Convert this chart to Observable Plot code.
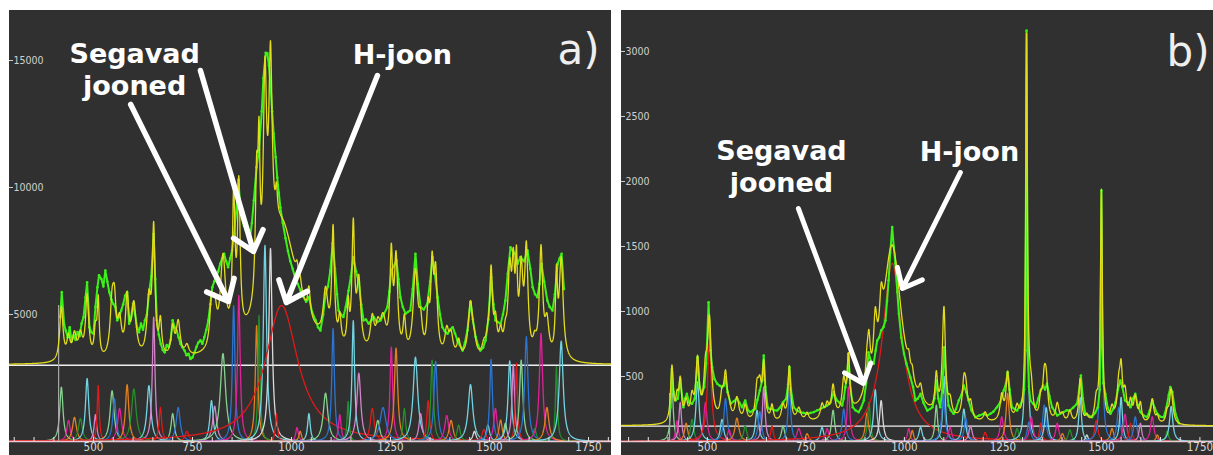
<!DOCTYPE html>
<html>
<head>
<meta charset="utf-8">
<script src="https://cdn.jsdelivr.net/npm/d3@7"></script>
<script src="https://cdn.jsdelivr.net/npm/@observablehq/plot@0.6"></script>
<style>
  html, body { margin: 0; padding: 0; background: #ffffff; }
  #wrap { position: relative; width: 1213px; height: 455px; overflow: hidden; }
  #pa { position: absolute; left: 9px; top: 10px; }
  #pb { position: absolute; left: 621px; top: 10px; }
  svg { display: block; }
</style>
</head>
<body>
<div id="wrap"><div id="pa"></div><div id="pb"></div></div>
<script>
// ---- Panel a) : fitted Raman bands [centre cm-1, height, half width, series] ----
const bandsA = [
  [419, 2140, 5, "LG"], [437, 830, 5, "MG"], [452, 950, 6, "OR"], [467, 900, 6, "DG"],
  [484, 2480, 5, "CY"], [505, 1060, 4, "PK"], [512, 2200, 3, "RD"], [547, 2000, 6, "LG"],
  [553, 1690, 5, "BL"], [566, 1300, 6, "MG"], [585, 2240, 5, "OR"], [602, 2070, 7, "DG"],
  [640, 2200, 6, "CY"], [652, 4900, 4, "PK"], [669, 1340, 4, "RD"], [700, 1100, 5, "LG"],
  [714, 1340, 6, "BL"], [736, 400, 6, "RD"], [798, 1610, 5, "CY"], [806, 1390, 6, "PK"],
  [827, 3460, 8, "LG"], [854, 5350, 4, "BL"], [867, 5750, 4, "MG"], [912, 4560, 4, "OR"],
  [918, 4960, 3, "DG"], [933, 7720, 5, "CY"], [947, 7600, 5, "WH"], [975, 5350, 50, "RD"],
  [962, 1100, 3, "RD"], [1014, 550, 4, "MG"], [1022, 400, 4, "OR"], [1044, 1100, 4, "CY"],
  [1086, 1900, 7, "LG"], [1105, 4450, 4, "BL"], [1122, 1060, 4, "MG"], [1143, 1580, 3, "DG"],
  [1156, 4760, 4, "CY"], [1170, 2690, 6, "PK"], [1204, 1300, 6, "RD"], [1218, 830, 6, "LG"],
  [1231, 1340, 9, "BL"], [1252, 3710, 4, "MG"], [1264, 3680, 5, "OR"], [1285, 1300, 4, "DG"],
  [1313, 3320, 7, "CY"], [1326, 1100, 5, "PK"], [1345, 1610, 4, "RD"], [1355, 3200, 4, "DG"],
  [1364, 3150, 5, "BL"], [1392, 1020, 6, "MG"], [1403, 830, 6, "OR"], [1422, 650, 5, "DG"],
  [1452, 2240, 7, "CY"], [1462, 400, 5, "WH"], [1486, 470, 6, "RD"], [1496, 650, 5, "CY"],
  [1504, 3230, 4, "BL"], [1515, 1300, 5, "MG"], [1528, 850, 5, "OR"], [1540, 720, 5, "LG"],
  [1551, 3170, 5, "CY"], [1560, 3020, 4, "PK"], [1568, 3070, 3, "RD"], [1580, 3200, 5, "LG"],
  [1593, 4130, 5, "BL"], [1614, 500, 5, "DG"], [1630, 4260, 5, "MG"], [1645, 1340, 6, "OR"],
  [1669, 2950, 3, "DG"], [1681, 3950, 6, "CY"]
];
const offsetA = 3000;
// measured spectrum, panel a) [cm-1, counts]
const observedA = [
  [416, 4900], [420, 5880], [426, 4600], [430, 4370], [435, 4100], [440, 4500], [445, 3950],
  [450, 4180], [455, 4000], [460, 4310], [465, 4150], [470, 4640], [475, 4900], [480, 5680],
  [484, 6270], [490, 4500], [495, 4300], [500, 4240], [505, 5300], [510, 6070], [514, 6540],
  [520, 6400], [525, 6100], [530, 6730], [535, 6300], [540, 5880], [545, 5600], [550, 5420],
  [555, 5300], [560, 4770], [565, 4900], [570, 5160], [575, 5400], [580, 5750], [585, 5880],
  [590, 4640], [595, 4900], [600, 5420], [605, 5000], [610, 4500], [615, 4300], [620, 4640],
  [625, 4400], [630, 4770], [635, 5000], [640, 5800], [646, 6500], [652, 8170], [656, 6400],
  [660, 4770], [665, 4200], [670, 3840], [675, 3600], [680, 3510], [685, 3800], [690, 3720],
  [695, 4000], [700, 4770], [705, 4500], [710, 4370], [715, 4100], [720, 3840], [725, 3700],
  [730, 3580], [735, 3400], [740, 3450], [745, 3250], [750, 3310], [755, 3500], [760, 3720],
  [765, 3900], [770, 3980], [775, 3850], [780, 4110], [785, 4400], [790, 4770], [795, 5400],
  [800, 6070], [805, 6300], [810, 6470], [815, 6700], [820, 7000], [825, 7200], [830, 7390],
  [835, 7100], [840, 6860], [845, 7200], [850, 7520], [855, 8200], [860, 9000], [866, 10300],
  [870, 9400], [875, 8800], [880, 8500], [885, 8300], [890, 8100], [895, 8000], [900, 8600],
  [905, 9500], [912, 10800], [918, 11500], [925, 13000], [929, 14300], [935, 15300],
  [939, 15280], [943, 14800], [947, 14090], [951, 13000], [955, 12120], [960, 11200],
  [964, 10390], [968, 9800], [972, 9210], [978, 8600], [985, 8000], [991, 7500], [997, 7100],
  [1003, 6800], [1010, 6400], [1016, 6200], [1023, 5940], [1030, 5700], [1037, 5500],
  [1044, 5680], [1052, 5100], [1061, 4770], [1067, 4500], [1073, 4370], [1080, 5000],
  [1086, 5810], [1092, 6100], [1098, 6730], [1104, 7800], [1110, 6800], [1115, 5800],
  [1119, 5160], [1125, 5000], [1131, 4900], [1137, 5300], [1144, 5940], [1150, 6500],
  [1156, 7260], [1163, 6700], [1170, 6270], [1176, 5400], [1182, 4770], [1188, 4800],
  [1195, 4640], [1201, 4750], [1208, 4900], [1216, 4700], [1225, 4770], [1233, 5000],
  [1242, 5290], [1247, 5900], [1252, 6730], [1258, 6900], [1265, 7130], [1270, 6400],
  [1275, 5680], [1281, 5300], [1288, 5030], [1294, 5100], [1300, 5160], [1306, 6000],
  [1313, 7390], [1319, 6200], [1326, 5290], [1334, 5200], [1343, 5420], [1350, 6300],
  [1356, 7260], [1362, 6600], [1369, 5680], [1375, 5000], [1381, 4500], [1387, 4350],
  [1394, 4240], [1400, 4400], [1407, 4500], [1413, 4250], [1419, 3980], [1425, 3800],
  [1432, 3580], [1438, 3900], [1444, 4370], [1452, 5490], [1458, 4800], [1465, 4110],
  [1471, 3800], [1477, 3580], [1484, 3700], [1490, 3980], [1497, 4800], [1504, 6470],
  [1510, 5400], [1515, 4770], [1521, 4700], [1528, 4640], [1534, 5000], [1540, 5550],
  [1546, 6600], [1553, 7650], [1559, 7500], [1565, 7390], [1571, 7000], [1578, 7260],
  [1587, 7100], [1596, 7520], [1603, 6800], [1609, 6070], [1615, 5800], [1621, 5680],
  [1626, 6200], [1631, 7000], [1638, 6300], [1646, 5550], [1652, 5300], [1659, 5160],
  [1665, 5800], [1672, 7000], [1677, 7200], [1682, 7390], [1688, 6000]
];
const startA = [{x: 412, top: 5350}];
const notesA = [
  {text: "Segavad\njooned", x: 604, y: 14685},
  {text: "H-joon", x: 1280, y: 15260}
];
const tagA = [{text: "a)", x: 1725, y: 15400}];
const arrowsA = [
  {x1: 594, y1: 13268, x2: 841, y2: 5512},
  {x1: 770, y1: 14606, x2: 904, y2: 7480},
  {x1: 1217, y1: 14409, x2: 987, y2: 5472}
];
const yTicksA = [5000, 10000, 15000];

// ---- Panel b) ----
const bandsB = [
  [410, 430, 4, "LG"], [423, 160, 4, "MG"], [431, 300, 4, "PK"], [446, 140, 5, "OR"],
  [461, 170, 5, "DG"], [475, 460, 5, "CY"], [495, 300, 5, "MG"], [505, 760, 6, "RD"],
  [537, 170, 5, "CY"], [546, 330, 5, "BL"], [555, 90, 5, "MG"], [575, 180, 6, "OR"],
  [596, 120, 5, "DG"], [626, 240, 5, "CY"], [633, 230, 5, "BL"], [643, 420, 4, "PK"],
  [664, 120, 4, "RD"], [692, 120, 5, "LG"], [708, 420, 4, "BL"], [732, 100, 6, "MG"],
  [753, 60, 5, "OR"], [791, 110, 5, "CY"], [804, 100, 5, "MG"], [819, 240, 5, "LG"],
  [846, 250, 5, "BL"], [858, 420, 4, "MG"], [905, 220, 5, "OR"], [910, 300, 4, "DG"],
  [926, 400, 5, "CY"], [941, 315, 5, "WH"], [969, 1370, 30, "RD"], [1011, 100, 4, "MG"],
  [1020, 85, 4, "OR"], [1041, 110, 5, "CY"], [1081, 280, 4, "LG"], [1101, 500, 4, "CY"],
  [1099, 360, 5, "BL"], [1116, 110, 5, "MG"], [1151, 250, 5, "CY"], [1156, 180, 5, "BL"],
  [1168, 120, 5, "PK"], [1205, 70, 5, "RD"], [1247, 190, 5, "MG"], [1262, 370, 5, "OR"],
  [1286, 100, 5, "DG"], [1310, 2900, 2.5, "CY"], [1316, 150, 5, "BL"], [1322, 190, 5, "MG"],
  [1346, 140, 4, "RD"], [1355, 280, 5, "BL"], [1360, 260, 5, "CY"], [1388, 140, 5, "MG"],
  [1401, 60, 5, "OR"], [1420, 90, 5, "DG"], [1446, 340, 4, "CY"], [1463, 50, 4, "WH"],
  [1487, 160, 5, "RD"], [1500, 1780, 3, "BL"], [1527, 100, 5, "OR"], [1544, 260, 5, "BL"],
  [1550, 340, 4, "CY"], [1560, 210, 5, "MG"], [1574, 140, 4, "RD"], [1586, 190, 5, "BL"],
  [1599, 140, 4, "PK"], [1629, 190, 5, "MG"], [1642, 50, 4, "OR"], [1667, 80, 4, "DG"],
  [1677, 270, 5, "CY"]
];
const offsetB = 118;
// measured spectrum, panel b) [cm-1, counts]
const observedB = [
  [406, 260], [410, 560], [414, 380], [419, 315], [425, 330], [431, 480], [439, 264],
  [443, 330], [448, 366], [454, 300], [461, 290], [468, 330], [475, 648], [480, 420],
  [486, 366], [492, 420], [497, 600], [503, 1070], [508, 700], [512, 572], [518, 480],
  [525, 444], [531, 430], [537, 418], [542, 430], [546, 495], [551, 380], [559, 290],
  [567, 310], [575, 330], [581, 300], [588, 264], [596, 315], [603, 240], [609, 226],
  [616, 240], [622, 251], [627, 320], [633, 392], [639, 470], [643, 662], [647, 420],
  [653, 264], [658, 250], [664, 251], [670, 240], [677, 238], [684, 260], [692, 302],
  [700, 330], [705, 440], [708, 572], [712, 400], [719, 264], [727, 240], [736, 226],
  [744, 220], [753, 213], [762, 220], [770, 226], [779, 240], [787, 251], [796, 265],
  [804, 277], [812, 300], [821, 380], [826, 330], [829, 315], [835, 300], [842, 277],
  [846, 330], [850, 418], [855, 500], [858, 675], [862, 450], [869, 264], [876, 240],
  [884, 226], [890, 260], [897, 315], [903, 450], [909, 687], [915, 620], [922, 598],
  [927, 700], [931, 777], [936, 800], [941, 854], [947, 880], [952, 931], [956, 1080],
  [960, 1240], [964, 1450], [969, 1650], [973, 1500], [977, 1370], [982, 1150], [986, 982],
  [992, 800], [999, 675], [1005, 600], [1015, 495], [1022, 420], [1028, 315], [1034, 330],
  [1041, 366], [1048, 300], [1058, 238], [1065, 250], [1071, 264], [1076, 330], [1081, 469],
  [1086, 330], [1091, 264], [1096, 400], [1101, 725], [1106, 450], [1112, 277], [1118, 240],
  [1125, 213], [1131, 250], [1138, 315], [1145, 360], [1151, 430], [1157, 380], [1163, 315],
  [1170, 240], [1180, 187], [1190, 200], [1201, 213], [1210, 200], [1218, 213], [1226, 230],
  [1235, 264], [1243, 300], [1252, 392], [1258, 450], [1262, 533], [1267, 400], [1273, 264],
  [1280, 250], [1286, 238], [1292, 270], [1299, 315], [1304, 400], [1307, 700], [1310, 3160],
  [1313, 700], [1316, 420], [1320, 315], [1327, 290], [1333, 264], [1340, 330], [1346, 392],
  [1352, 430], [1357, 400], [1362, 444], [1368, 350], [1375, 264], [1382, 230], [1388, 200],
  [1396, 215], [1404, 226], [1412, 240], [1420, 238], [1428, 260], [1438, 290], [1443, 380],
  [1448, 508], [1453, 330], [1459, 213], [1467, 200], [1476, 187], [1484, 220], [1491, 264],
  [1496, 400], [1498, 800], [1500, 1930], [1502, 800], [1505, 450], [1510, 366], [1516, 260],
  [1523, 213], [1530, 250], [1536, 302], [1542, 400], [1548, 469], [1553, 420], [1560, 315],
  [1567, 300], [1574, 264], [1580, 330], [1586, 366], [1592, 280], [1599, 226], [1607, 200],
  [1616, 187], [1623, 240], [1629, 315], [1635, 260], [1642, 213], [1650, 190], [1658, 187],
  [1665, 260], [1671, 360], [1675, 418], [1680, 380], [1688, 213], [1697, 140]
];
const startB = [{x: 404, top: 369}];
const notesB = [
  {text: "Segavad\njooned", x: 688, y: 2123},
  {text: "H-joon", x: 1165, y: 2235}
];
const tagB = [{text: "b)", x: 1720, y: 2992}];
const arrowsB = [
  {x1: 731, y1: 1792, x2: 896, y2: 446},
  {x1: 1142, y1: 2069, x2: 995, y2: 1177}
];
const yTicksB = [500, 1000, 1500, 2000, 2500, 3000];

const xTicks = [500, 750, 1000, 1250, 1500, 1750];
const xMinor = d3.range(300, 1801, 50);

// series colours of the fitted components
const palette = {
  LG: "#86d28e", MG: "#e0229a", OR: "#e2801f", DG: "#23902a", CY: "#72d4e2",
  PK: "#d483cc", RD: "#e01a1a", BL: "#2c74d2", WH: "#dadada"
};

// Lorentzian band profile
const lorentz = (b, x) => b[1] / (1 + ((x - b[0]) / b[2]) ** 2);

function panel({bands, offset, observed, start, notes, tag, arrows, yTicks,
                width, xDomain, yDomain, arrowWidth}) {
  const grid = d3.range(xDomain[0], xDomain[1] + 0.25, 0.5);
  const fit = grid.map(x => ({x, y: offset + d3.sum(bands, b => lorentz(b, x))}));
  const comps = bands.flatMap((b, i) => {
    const span = Math.max(90, 25 * b[2]);
    return grid.filter(x => Math.abs(x - b[0]) <= span)
               .map(x => ({i, x, y: lorentz(b, x), c: palette[b[3]]}));
  });
  const height = 445;
  return Plot.plot({
    width, height,
    marginTop: 0, marginBottom: 14, marginLeft: 0, marginRight: 0,
    style: {background: "#303030", color: "#dcdcdc", fontFamily: "DejaVu Sans, sans-serif"},
    x: {domain: xDomain},
    y: {domain: yDomain, axis: null},
    marks: [
      Plot.ruleY([offset], {stroke: "#efefef", strokeWidth: 1.4}),
      Plot.line(comps, {x: "x", y: "y", z: "i", stroke: "c", strokeWidth: 1.3, clip: true}),
      Plot.ruleY([0], {stroke: "#ecc8d4", strokeWidth: 1.4}),
      Plot.ruleX(start, {x: "x", y1: 0, y2: "top", stroke: "#a8a8a8", strokeWidth: 1.2}),
      Plot.line(observed, {x: d => d[0], y: d => d[1], stroke: "#3cf018", strokeWidth: 2, clip: true}),
      Plot.dot(observed, {x: d => d[0], y: d => d[1], r: 1.3, fill: "#3cf018", clip: true}),
      Plot.line(fit, {x: "x", y: "y", stroke: "#e3dc1c", strokeWidth: 1.3, clip: true}),
      Plot.tickX(xMinor, {x: d => d, stroke: "#e6e6e6", insetTop: height - 14 - 4}),
      Plot.axisX(xTicks, {tickSize: 0, tickPadding: 1, label: null, fill: "#dcdcdc",
        tickFormat: d => String(d), fontSize: 11.5,
        fontFamily: "DejaVu Sans Condensed, DejaVu Sans, sans-serif"}),
      Plot.tickY(yTicks, {y: d => d, stroke: "#cfcfcf", insetRight: width - 4}),
      Plot.text(yTicks, {y: d => d, text: d => String(d), frameAnchor: "left", textAnchor: "start",
        dx: 4, fill: "#d0d0d0", fontSize: 10.5,
        fontFamily: "DejaVu Sans Condensed, DejaVu Sans, sans-serif"}),
      Plot.arrow(arrows, {x1: "x1", y1: "y1", x2: "x2", y2: "y2", stroke: "#ffffff",
        strokeWidth: arrowWidth, headLength: 6.5, headAngle: 80, strokeLinecap: "round",
        strokeLinejoin: "round"}),
      Plot.text(notes, {x: "x", y: "y", text: "text", fill: "#ffffff", fontWeight: "bold",
        fontSize: 27, lineHeight: 1.22, fontFamily: "DejaVu Sans, sans-serif"}),
      Plot.text(tag, {x: "x", y: "y", text: "text", fill: "#eeeeee", fontSize: 42,
        fontFamily: "DejaVu Sans, sans-serif"})
    ]
  });
}

document.getElementById("pa").append(panel({
  bands: bandsA, offset: offsetA, observed: observedA, start: startA, notes: notesA,
  tag: tagA, arrows: arrowsA, yTicks: yTicksA, width: 602,
  xDomain: [288, 1808], yDomain: [0, 16968], arrowWidth: 5.5
}));
document.getElementById("pb").append(panel({
  bands: bandsB, offset: offsetB, observed: observedB, start: startB, notes: notesB,
  tag: tagB, arrows: arrowsB, yTicks: yTicksB, width: 592,
  xDomain: [282, 1784.5], yDomain: [0, 3315], arrowWidth: 5
}));
</script>
</body>
</html>
